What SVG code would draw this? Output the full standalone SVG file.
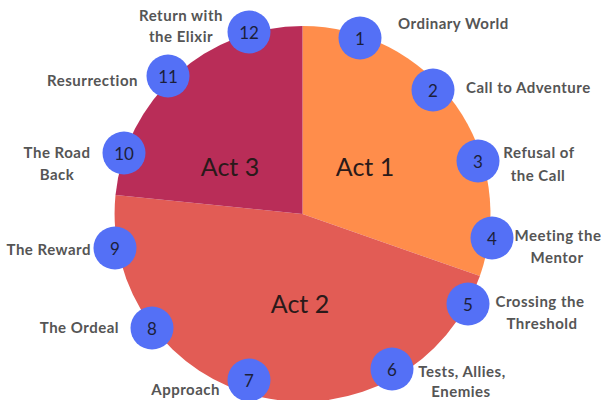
<svg xmlns="http://www.w3.org/2000/svg" width="601" height="400" viewBox="0 0 601 400">
<style>
.lbl{font-family:Lato,"Open Sans",sans-serif;font-weight:bold;font-size:15px;letter-spacing:0.5px;fill:#555;}
.num{font-family:Lato,"Open Sans",sans-serif;font-size:17px;fill:#1c1f3a;text-anchor:middle;dominant-baseline:central;}
.act{font-family:Lato,"Open Sans",sans-serif;font-size:25px;fill:#2a1a1a;text-anchor:middle;dominant-baseline:central;}
.dot{fill:#5470f6;}
</style>
<rect width="601" height="400" fill="#fff"/>
<g id="act1"><path d="M302.5,214 L302.5,26 A188,188 0 0 1 479.9,276.1 Z" fill="#ff8d4b"/><text class="act" x="365" y="166">Act 1</text></g>
<g id="act2"><path d="M302.5,214 L479.9,276.1 A188,188 0 0 1 115.5,195 Z" fill="#e25c55"/><text class="act" x="300" y="303">Act 2</text></g>
<g id="act3"><path d="M302.5,214 L115.5,195 A188,188 0 0 1 302.5,26 Z" fill="#b92d58"/><text class="act" x="230" y="166">Act 3</text></g>
<g id="s1"><circle class="dot" cx="360" cy="38" r="21.5"/><text class="num" x="360" y="38">1</text><text class="lbl" x="398" y="29">Ordinary World</text></g>
<g id="s2"><circle class="dot" cx="433" cy="90" r="21.5"/><text class="num" x="433" y="90">2</text><text class="lbl" x="466" y="93">Call to Adventure</text></g>
<g id="s3"><circle class="dot" cx="478" cy="161" r="21.5"/><text class="num" x="478" y="161">3</text><text class="lbl" text-anchor="middle" x="539" y="158">Refusal of</text><text class="lbl" text-anchor="middle" x="538" y="181">the Call</text></g>
<g id="s4"><circle class="dot" cx="492" cy="238" r="21.5"/><text class="num" x="492" y="238">4</text><text class="lbl" text-anchor="middle" x="558" y="241">Meeting the</text><text class="lbl" text-anchor="middle" x="557" y="263">Mentor</text></g>
<g id="s5"><circle class="dot" cx="468" cy="304" r="21.5"/><text class="num" x="468" y="304">5</text><text class="lbl" text-anchor="middle" x="540" y="307">Crossing the</text><text class="lbl" text-anchor="middle" x="542" y="329">Threshold</text></g>
<g id="s6"><circle class="dot" cx="392" cy="369" r="21.5"/><text class="num" x="392" y="369">6</text><text class="lbl" text-anchor="middle" x="462" y="377">Tests, Allies,</text><text class="lbl" text-anchor="middle" x="461" y="397">Enemies</text></g>
<g id="s7"><circle class="dot" cx="249" cy="380" r="21.5"/><text class="num" x="249" y="380">7</text><text class="lbl" text-anchor="end" x="220" y="395">Approach</text></g>
<g id="s8"><circle class="dot" cx="152" cy="328" r="21.5"/><text class="num" x="152" y="328">8</text><text class="lbl" text-anchor="end" x="119" y="333">The Ordeal</text></g>
<g id="s9"><circle class="dot" cx="115" cy="248" r="21.5"/><text class="num" x="115" y="248">9</text><text class="lbl" text-anchor="end" x="91" y="255">The Reward</text></g>
<g id="s10"><circle class="dot" cx="124" cy="153" r="21.5"/><text class="num" x="124" y="153">10</text><text class="lbl" text-anchor="middle" x="57" y="158">The Road</text><text class="lbl" text-anchor="middle" x="57" y="180">Back</text></g>
<g id="s11"><circle class="dot" cx="168" cy="76" r="21.5"/><text class="num" x="168" y="76">11</text><text class="lbl" text-anchor="end" x="138" y="86">Resurrection</text></g>
<g id="s12"><circle class="dot" cx="249" cy="32" r="21.5"/><text class="num" x="249" y="32">12</text><text class="lbl" text-anchor="middle" x="181" y="21">Return with</text><text class="lbl" text-anchor="middle" x="181" y="42">the Elixir</text></g>
<g id="connectors"></g>
</svg>
